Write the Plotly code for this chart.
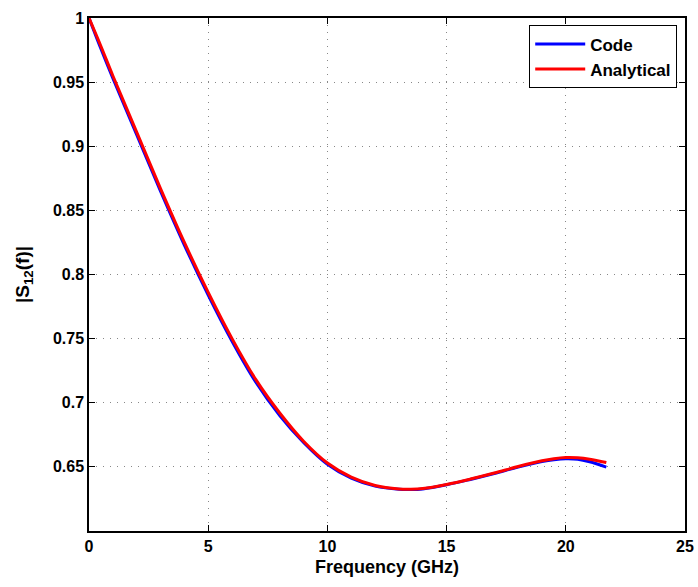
import plotly.graph_objects as go

freq_ghz = [0, 0.5, 1, 2, 3, 4, 5, 6, 7, 8, 9, 10, 11, 12, 13, 13.5, 14, 15, 16, 17, 18, 19, 19.5, 20, 20.5, 21, 21.7]
s12_analytical = [1.0, 0.978, 0.955, 0.911, 0.867, 0.825, 0.786, 0.750, 0.718, 0.692, 0.670, 0.653, 0.642, 0.6355, 0.6328, 0.6326, 0.6331, 0.6363, 0.6405, 0.6452, 0.6503, 0.6548, 0.6564, 0.6573, 0.6571, 0.6560, 0.6534]
s12_code = [1.0, 0.976, 0.953, 0.909, 0.865, 0.823, 0.784, 0.748, 0.716, 0.690, 0.669, 0.652, 0.6412, 0.6350, 0.6325, 0.6323, 0.6328, 0.6360, 0.6402, 0.6448, 0.6498, 0.6541, 0.6556, 0.6564, 0.6560, 0.6540, 0.6498]

x_ticks = [0, 5, 10, 15, 20, 25]
y_ticks = [0.65, 0.7, 0.75, 0.8, 0.85, 0.9, 0.95, 1]
y_tick_labels = ["0.65", "0.7", "0.75", "0.8", "0.85", "0.9", "0.95", "1"]

fig = go.Figure()
fig.add_trace(go.Scatter(x=freq_ghz, y=s12_code, mode="lines", name="Code",
                         line=dict(color="#0000ff", width=3, shape="spline")))
fig.add_trace(go.Scatter(x=freq_ghz, y=s12_analytical, mode="lines", name="Analytical",
                         line=dict(color="#ff0000", width=3, shape="spline")))

font_family = "Liberation Sans, Arial, sans-serif"
fig.update_layout(
    width=698, height=587,
    margin=dict(l=89, r=13, t=18, b=56, autoexpand=False),
    paper_bgcolor="white", plot_bgcolor="white",
    font=dict(family=font_family, size=14, color="black"),
    showlegend=True,
    legend=dict(
        x=0.9866, y=0.986, xanchor="right", yanchor="top",
        bgcolor="white", bordercolor="black", borderwidth=1.2,
        font=dict(family=font_family, size=17, color="black", weight="bold"),
        tracegroupgap=0, itemwidth=50,
    ),
)
fig.update_xaxes(
    range=[0, 25], tickvals=x_ticks, ticktext=[str(v) for v in x_ticks],
    showline=True, linecolor="black", linewidth=1.5, mirror="ticks",
    ticks="inside", ticklen=6, tickcolor="black", tickwidth=1,
    showgrid=True, gridcolor="#888888", gridwidth=1, griddash="1px,6px",
    zeroline=False, automargin=False,
    tickfont=dict(family=font_family, size=16, color="black", weight="bold"),
    title=dict(text="Frequency (GHz)", standoff=6,
               font=dict(family=font_family, size=18, color="black", weight="bold")),
)
fig.update_yaxes(
    range=[0.6, 1], tickvals=y_ticks, ticktext=y_tick_labels,
    showline=True, linecolor="black", linewidth=1.5, mirror="ticks",
    ticks="inside", ticklen=6, tickcolor="black", tickwidth=1,
    showgrid=True, gridcolor="#888888", gridwidth=1, griddash="1px,6px",
    zeroline=False, automargin=False,
    tickfont=dict(family=font_family, size=16, color="black", weight="bold"),
    title=dict(text="|S<sub>12</sub>(f)|", standoff=18,
               font=dict(family=font_family, size=19, color="black", weight="bold")),
)

fig.write_html("out.html")
